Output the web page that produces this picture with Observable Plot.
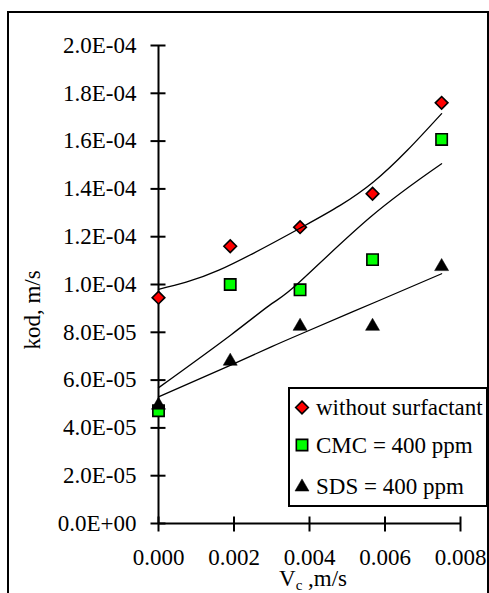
<!DOCTYPE html>
<html>
<head>
<meta charset="utf-8">
<script src="https://cdn.jsdelivr.net/npm/d3@7"></script>
<script src="https://cdn.jsdelivr.net/npm/@observablehq/plot@0.6"></script>
<style>
  html, body { margin: 0; padding: 0; background: #fff; }
  #chart { position: relative; width: 489px; height: 593px; overflow: hidden;
           font-family: "Liberation Serif", "Times New Roman", serif; }
  #chart > svg { position: absolute; left: 0; top: 0; }
  #frame { position: absolute; left: 7px; top: 11px; width: 478px; height: 640px;
           border: 2px solid #000; pointer-events: none; }
</style>
</head>
<body>
<div id="chart"></div>
<script>
// Superficial velocity of the continuous phase, m/s
const vc = [0, 0.0019, 0.00375, 0.00567, 0.0075];

// Measured k_od, m/s
const withoutSurfactant = [9.45e-5, 11.6e-5, 12.4e-5, 13.8e-5, 17.6e-5];
const cmc400 = [4.72e-5, 10.0e-5, 9.78e-5, 11.04e-5, 16.07e-5];
const sds400 = [4.95e-5, 6.79e-5, 8.25e-5, 8.25e-5, 10.75e-5];

// Trend curves, sampled along each fitted line
const fitWithoutX = [0, 0.0016, 0.0038, 0.0057, 0.0075];
const fitWithoutY = [9.8e-5, 10.6e-5, 12.4e-5, 14.3e-5, 17.15e-5];
const fitCmcX = [0, 0.0019, 0.003, 0.0037, 0.0056, 0.0075];
const fitCmcY = [5.68e-5, 7.87e-5, 9.2e-5, 10.05e-5, 12.8e-5, 15.05e-5];
const fitSdsX = [0, 0.0019, 0.003, 0.0038, 0.0058, 0.0075];
const fitSdsY = [5.3e-5, 6.62e-5, 7.4e-5, 7.95e-5, 9.3e-5, 10.45e-5];

const seriesNames = ["without surfactant", "CMC = 400 ppm", "SDS = 400 ppm"];

const xTicks = [0, 0.002, 0.004, 0.006, 0.008];
const yTicks = [0, 2e-5, 4e-5, 6e-5, 8e-5, 1e-4, 1.2e-4, 1.4e-4, 1.6e-4, 1.8e-4, 2e-4];

// Excel-style scientific labels: 2.0E-04
function sci(d) {
  const [m, e] = d.toExponential(1).split("e");
  const n = Math.abs(+e);
  return `${m}E${+e < 0 ? "-" : "+"}${String(n).padStart(2, "0")}`;
}

const rows = (xs, ys, series) => xs.map((x, i) => ({x, y: ys[i], series}));
const pointsWithout = rows(vc, withoutSurfactant, seriesNames[0]);
const pointsCmc = rows(vc, cmc400, seriesNames[1]);
const pointsSds = rows(vc, sds400, seriesNames[2]);
const fits = [
  ...rows(fitWithoutX, fitWithoutY, seriesNames[0]),
  ...rows(fitCmcX, fitCmcY, seriesNames[1]),
  ...rows(fitSdsX, fitSdsY, seriesNames[2])
];

// marker styles shared by the plot and the legend
const markers = [
  {symbol: "diamond2", r: 5.7, fill: "#ff0000", stroke: "#000", strokeWidth: 1.6},
  {symbol: "square", r: 6.4, fill: "#00ff00", stroke: "#000", strokeWidth: 1.6},
  {symbol: "triangle", r: 5.2, fill: "#000", stroke: "#000", strokeWidth: 0.5}
];

const FONT = "Liberation Serif, Times New Roman, serif";
const SIZE = 23;

const plot = Plot.plot({
  width: 489,
  height: 593,
  marginLeft: 158,
  marginRight: 29,
  marginTop: 45,
  marginBottom: 70,
  x: {domain: [0, 0.008]},
  y: {domain: [0, 2e-4]},
  style: {fontFamily: FONT, fontSize: `${SIZE}px`, background: "none", color: "#000"},
  marks: [
    // tick marks crossing the axis lines
    Plot.axisY(yTicks, {tickSize: 15, dx: 7.5, strokeWidth: 2, fill: "none", label: null}),
    Plot.axisX(xTicks, {tickSize: 15, dy: -6.5, strokeWidth: 2, fill: "none", label: null}),
    // tick labels
    Plot.axisY(yTicks, {tickSize: 0, tickPadding: 22, tickFormat: sci, label: null, stroke: "none"}),
    Plot.axisX(xTicks, {tickSize: 0, tickPadding: 25, tickFormat: d3.format(".3f"), label: null, stroke: "none"}),
    Plot.ruleX([0], {strokeWidth: 2}),
    Plot.ruleY([0], {strokeWidth: 2}),
    Plot.dot(pointsWithout, {x: "x", y: "y", ...markers[0]}),
    Plot.dot(pointsCmc, {x: "x", y: "y", ...markers[1]}),
    Plot.dot(pointsSds, {x: "x", y: "y", ...markers[2]}),
    Plot.line(fits, {x: "x", y: "y", z: "series", stroke: "#000", strokeWidth: 1.3, curve: "natural"})
  ]
});

const chart = document.getElementById("chart");
chart.appendChild(plot);

// Axis titles and legend box drawn over the plot
const overlay = d3.create("svg")
  .attr("width", 489).attr("height", 593)
  .style("position", "absolute").style("left", 0).style("top", 0)
  .style("font-family", FONT)
  .style("font-size", `${SIZE}px`);

const xt = overlay.append("text").attr("x", 279).attr("y", 586);
xt.append("tspan").text("V");
xt.append("tspan").attr("font-size", 15).attr("dy", 4).text("c");
xt.append("tspan").attr("dy", -4).text(" ,m/s");

const yt = overlay.append("text")
  .attr("transform", "translate(40,310) rotate(-90)")
  .attr("text-anchor", "middle");
yt.append("tspan").text("k");
yt.append("tspan").text("od");
yt.append("tspan").text(", m/s");

const legend = overlay.append("g");
legend.append("rect")
  .attr("x", 289).attr("y", 388).attr("width", 198).attr("height", 118)
  .attr("fill", "#fff").attr("stroke", "#000").attr("stroke-width", 2);
const rowY = [407.5, 445, 487];
const baseY = [415, 453, 494];
seriesNames.forEach((name, i) => {
  const m = markers[i];
  const type = {diamond2: d3.symbolDiamond2, square: d3.symbolSquare, triangle: d3.symbolTriangle}[m.symbol];
  legend.append("path")
    .attr("transform", `translate(302,${rowY[i]})`)
    .attr("d", d3.symbol(type, Math.PI * m.r * m.r)())
    .attr("fill", m.fill).attr("stroke", m.stroke).attr("stroke-width", m.strokeWidth);
  legend.append("text").attr("x", 316).attr("y", baseY[i]).text(name);
});

chart.appendChild(overlay.node());

const frame = document.createElement("div");
frame.id = "frame";
chart.appendChild(frame);
</script>
</body>
</html>
